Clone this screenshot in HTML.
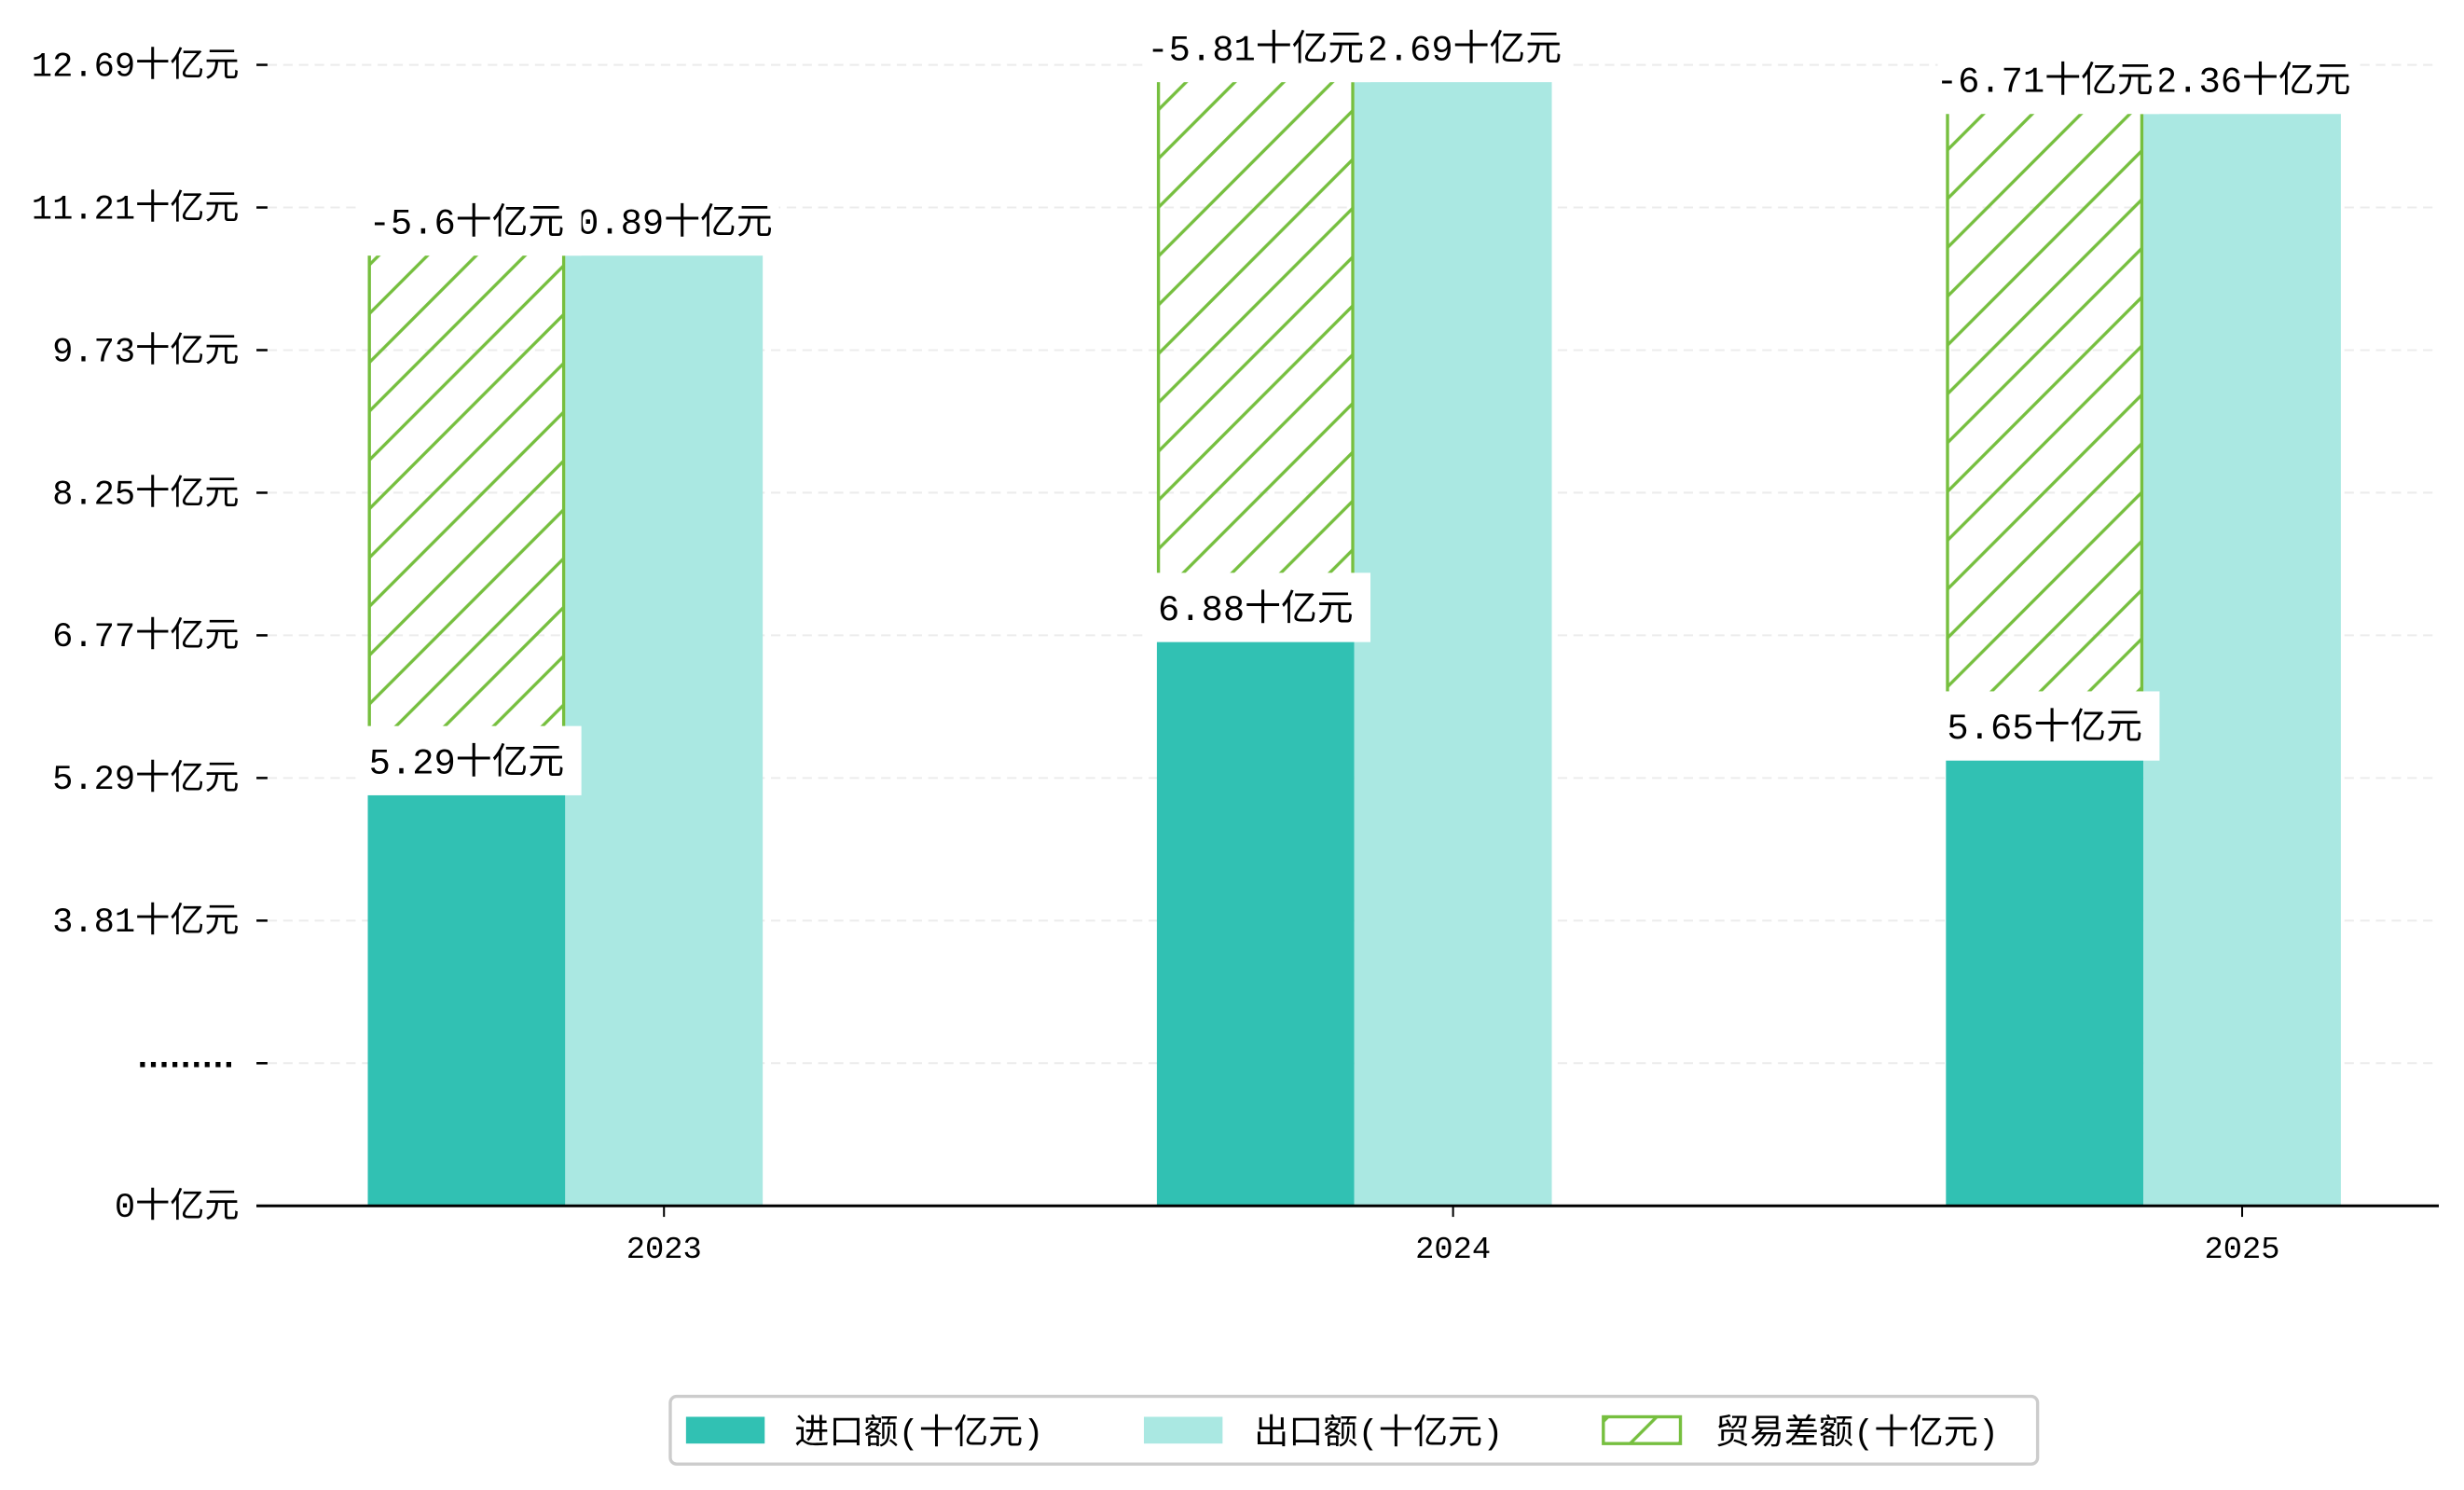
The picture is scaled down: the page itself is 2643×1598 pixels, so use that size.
<!DOCTYPE html>
<html><head><meta charset="utf-8"><style>
html,body{margin:0;padding:0;background:#fff;}
svg{display:block;}
text{font-family:"Liberation Mono","Noto Sans CJK SC",monospace;fill:#000;}
</style></head><body>
<svg id="chart" width="2643" height="1598" viewBox="0 0 1566 946.5" preserveAspectRatio="none" xmlns="http://www.w3.org/2000/svg">
<defs>
<pattern id="hatch" patternUnits="userSpaceOnUse" width="31" height="31">
<path d="M-8,39 L39,-8 M-8,8 L8,-8 M23,39 L39,23" stroke="#76bf3f" stroke-width="2"/>
</pattern>
</defs>
<g id="grid"></g>
<g id="bars"></g>
<g id="labels"></g>
<g id="axes"></g>
<g id="legend">
<rect x="426" y="887" width="869" height="43" rx="4" fill="#fff" stroke="#ccc" stroke-width="2"/>
<g>
<rect x="436" y="900" width="50" height="17" fill="#31c1b3"/>
<text x="505" y="917" font-size="22">进口额(十亿元)</text></g>
<g>
<rect x="727" y="900" width="50" height="17" fill="#aae8e2"/>
<text x="797" y="917" font-size="22">出口额(十亿元)</text></g>
<g>
<rect x="1019" y="900" width="49" height="17" fill="url(#hatch)" stroke="#76bf3f" stroke-width="2"/>
<text x="1090" y="917" font-size="22">贸易差额(十亿元)</text></g>
</g>
</svg>
<script>
const years = ["2023","2024","2025"];
const imports = [5.29, 6.88, 5.65];
const exports_ = [10.89, 12.69, 12.36];
const balances = [-5.6, -5.81, -6.71];
const tickValues = [0, null, 3.81, 5.29, 6.77, 8.25, 9.73, 11.21, 12.69];
const tickLabels = ["0十亿元","·········","3.81十亿元","5.29十亿元","6.77十亿元","8.25十亿元","9.73十亿元","11.21十亿元","12.69十亿元"];

const NS = "http://www.w3.org/2000/svg";
const X0 = 163, X1 = 1550, Y0 = 766;
const step = 90.6;
const perUnit = step / 1.48;
function yScale(v){
  if (v >= 2.33) return Y0 - 2*step - (v - 3.81) * perUnit;
  return Y0 - v * (2*step / 3.81);
}
function tickY(i){ return Y0 - i*step; }
function xCenter(i){ return 422 + i * 501.5; }
const BW = 125.5;
function mk(tag, attrs, parent){
  const e = document.createElementNS(NS, tag);
  for (const k in attrs) e.setAttribute(k, attrs[k]);
  parent.appendChild(e); return e;
}
const grid = document.getElementById('grid');
const axes = document.getElementById('axes');
const bars = document.getElementById('bars');
const labels = document.getElementById('labels');

tickLabels.forEach((t,i)=>{
  const y = tickY(i);
  if (i>0){
    const g = mk('line',{x1:170,x2:X1,y1:y,y2:y,stroke:'#ececec','stroke-width':1.2,'stroke-dasharray':'6,4'},grid);
    
    
  }
  const tk = mk('line',{x1:163,x2:170,y1:y,y2:y,stroke:'#000','stroke-width':1.5},axes);
  
  
  const attrs = {x:152,y:y+7,'font-size':22,'text-anchor':'end'};
  if (i===1){ attrs.textLength = 68; attrs.lengthAdjust='spacing'; attrs['font-weight']='bold'; }
  const tx = mk('text',attrs,axes);
  tx.textContent = t;
  
  
});
const ax = mk('line',{x1:X0,x2:X1,y1:Y0,y2:Y0,stroke:'#000','stroke-width':1.8},axes);



function label(cx, vy, txt, name){
  const g = mk('g',{},labels);
  
  
  mk('rect',{x:cx-68,y:vy-33,width:141,height:44,fill:'#fff'},g);
  const t = mk('text',{x:cx,y:vy-3,'font-size':23,'text-anchor':'middle'},g);
  t.textContent = txt;
}

years.forEach((yr,i)=>{
  const c = xCenter(i);
  const yi = yScale(imports[i]), ye = yScale(exports_[i]);
  const top = yScale(imports[i] - balances[i]);
  const ix = c - 1.5*BW, ex = c - 0.5*BW;
  const b1 = mk('rect',{x:ix,y:yi,width:BW,height:Y0-yi,fill:'#31c1b3'},bars);
  
  
  const b2 = mk('rect',{x:ex,y:ye,width:BW,height:Y0-ye,fill:'#aae8e2'},bars);
  
  
  const b3 = mk('rect',{x:ix+1,y:top,width:BW-2,height:yi-top,fill:'url(#hatch)',stroke:'#76bf3f','stroke-width':2},bars);
  
  
  const xt = mk('line',{x1:c,x2:c,y1:Y0,y2:Y0+7,stroke:'#000','stroke-width':1.2},axes);
  
  
  const xl = mk('text',{x:c,y:799,'font-size':20,'text-anchor':'middle'},axes);
  xl.textContent = yr;
  
  
  label(ix+BW/2, yi, imports[i]+'十亿元', 'label-import-'+yr);
  label(ex+BW/2, ye, exports_[i]+'十亿元', 'label-export-'+yr);
  label(ix+BW/2, top, balances[i]+'十亿元', 'label-balance-'+yr);
});
</script>
</body></html>
